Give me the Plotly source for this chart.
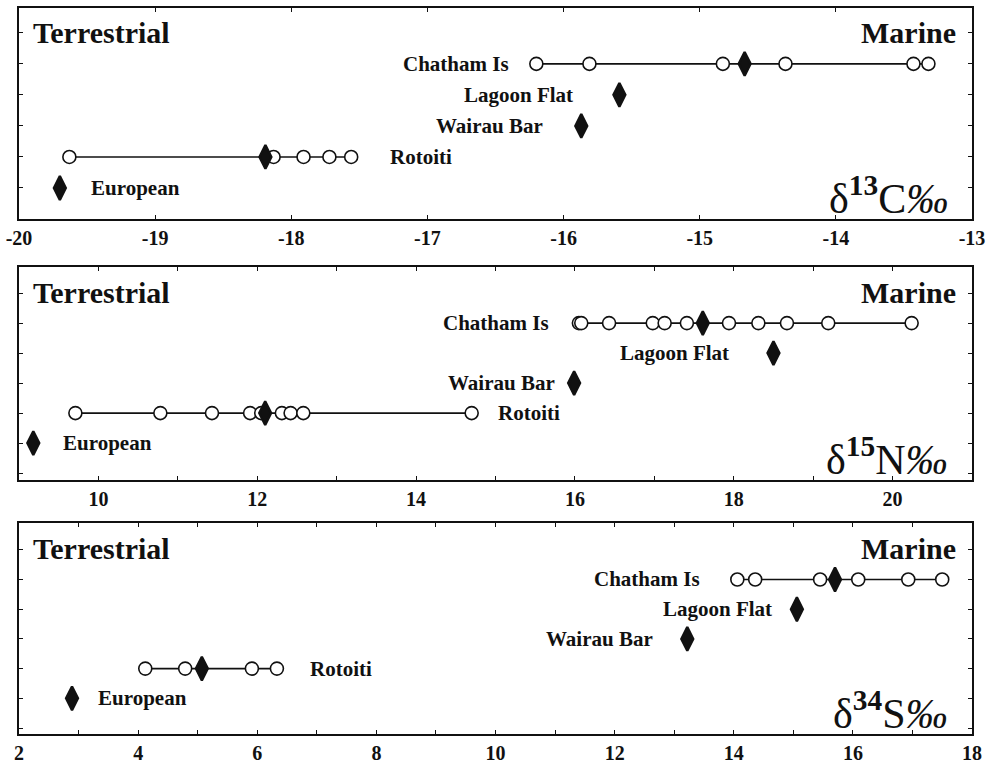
import plotly.graph_objects as go
from plotly.subplots import make_subplots

# Site order, top to bottom within each panel
sites = ["Chatham Is", "Lagoon Flat", "Wairau Bar", "Rotoiti", "European"]
site_rows = [5, 4, 3, 2, 1]

# delta 13C (per mil): individual samples and site means
c13_chatham = [-16.20, -15.81, -14.83, -14.37, -13.43, -13.32]
c13_rotoiti = [-19.63, -18.13, -17.91, -17.72, -17.56]
c13_means = [-14.67, -15.59, -15.87, -18.19, -19.70]

# delta 15N (per mil)
n15_chatham = [16.05, 16.08, 16.43, 16.98, 17.13, 17.41, 17.94, 18.31, 18.67, 19.19, 20.24]
n15_rotoiti = [9.71, 10.78, 11.43, 11.91, 12.05, 12.31, 12.42, 12.58, 14.70]
n15_means = [17.61, 18.50, 15.99, 12.10, 9.18]

# delta 34S (per mil)
s34_chatham = [14.06, 14.36, 15.45, 16.09, 16.93, 17.50]
s34_rotoiti = [4.12, 4.79, 5.91, 6.33]
s34_means = [15.70, 15.06, 13.22, 5.07, 2.89]

# Axis ticks
c13_ticks = [-20, -19, -18, -17, -16, -15, -14, -13]
n15_ticks = [10, 12, 14, 16, 18, 20]
s34_ticks = [2, 4, 6, 8, 10, 12, 14, 16, 18]

panels = [
    dict(samples={"Chatham Is": c13_chatham, "Rotoiti": c13_rotoiti}, means=c13_means,
         ticks=c13_ticks, iso="13", elem="C"),
    dict(samples={"Chatham Is": n15_chatham, "Rotoiti": n15_rotoiti}, means=n15_means,
         ticks=n15_ticks, iso="15", elem="N"),
    dict(samples={"Chatham Is": s34_chatham, "Rotoiti": s34_rotoiti}, means=s34_means,
         ticks=s34_ticks, iso="34", elem="S"),
]

# Layout: panel boxes, axis ranges, label placement (pixels from marker centre)
X_DOMAIN = [19 / 993, 972 / 993]
Y_DOMAINS = [[0.7141, 0.9896], [0.3734, 0.6514], [0.0418, 0.3172]]
X_RANGES = [[-20, -13], [9, 21], [2, 18]]
Y_RANGES = [[0.0, 6.8], [-0.23, 6.87], [-0.2, 6.9]]
LABEL_SIDE = ["left", "left", "left", "right", "right"]
LABEL_GAP = [[25, 44, 36, 37, 29], [28, 42, 17, 24, 28], [35, 23, 32, 31, 24]]

FONT = "Liberation Serif, Times New Roman, serif"
INK = "#111111"

fig = make_subplots(rows=3, cols=1)

for i, p in enumerate(panels):
    r = i + 1
    # sample ranges: connecting line, then open circles
    for site, vals in p["samples"].items():
        k = sites.index(site)
        row_y = site_rows[k]
        span = sorted(vals + [p["means"][k]])
        fig.add_trace(go.Scatter(x=[span[0], span[-1]], y=[row_y, row_y], mode="lines",
                                 line=dict(color=INK, width=1.6), hoverinfo="skip"),
                      row=r, col=1)
        fig.add_trace(go.Scatter(x=vals, y=[row_y] * len(vals), mode="markers",
                                 marker=dict(symbol="circle", size=13, color="white",
                                             line=dict(color=INK, width=1.6)),
                                 name=site),
                      row=r, col=1)
    # site means: filled diamonds
    fig.add_trace(go.Scatter(x=p["means"], y=site_rows, mode="markers",
                             marker=dict(symbol="diamond-tall", size=17, color=INK,
                                         line=dict(color=INK, width=2.4)),
                             text=sites, name="mean"),
                  row=r, col=1)

    xa = "x" if r == 1 else f"x{r}"
    ya = "y" if r == 1 else f"y{r}"

    # site labels
    for k, site in enumerate(sites):
        pts = p["samples"].get(site, []) + [p["means"][k]]
        if LABEL_SIDE[k] == "left":
            x0, anchor, shift = min(pts), "right", -LABEL_GAP[i][k]
        else:
            x0, anchor, shift = max(pts), "left", LABEL_GAP[i][k]
        fig.add_annotation(x=x0, y=site_rows[k], xref=xa, yref=ya, text=f"<b>{site}</b>",
                           showarrow=False, xanchor=anchor, yanchor="middle", xshift=shift,
                           font=dict(family=FONT, size=21, color=INK))

    # end-member labels
    fig.add_annotation(x=0, y=1, xref=f"{xa} domain", yref=f"{ya} domain", text="<b>Terrestrial</b>",
                       showarrow=False, xanchor="left", yanchor="middle", xshift=12, yshift=-25,
                       font=dict(family=FONT, size=30, color=INK))
    fig.add_annotation(x=1, y=1, xref=f"{xa} domain", yref=f"{ya} domain", text="<b>Marine</b>",
                       showarrow=False, xanchor="right", yanchor="middle", xshift=-14, yshift=-25,
                       font=dict(family=FONT, size=30, color=INK))
    # isotope label
    fig.add_annotation(x=1, y=0, xref=f"{xa} domain", yref=f"{ya} domain",
                       text=f"δ<sup><b>{p['iso']}</b></sup>{p['elem']}<i>‰</i>",
                       showarrow=False, xanchor="right", yanchor="bottom", xshift=-22, yshift=-5,
                       font=dict(family=FONT, size=42, color=INK))

    fig.update_xaxes(row=r, col=1, domain=X_DOMAIN, range=X_RANGES[i],
                     tickvals=p["ticks"], ticktext=[str(t) for t in p["ticks"]],
                     ticks="inside", ticklen=4, tickcolor=INK, mirror="ticks",
                     minor=dict(dtick=1, ticks="inside", ticklen=4, tickcolor=INK),
                     showline=True, linewidth=2, linecolor=INK, showgrid=False, zeroline=False,
                     tickfont=dict(family=FONT, size=20, color=INK, weight="bold"))
    fig.update_yaxes(row=r, col=1, domain=Y_DOMAINS[i], range=Y_RANGES[i],
                     tickmode="linear", tick0=0, dtick=1, showticklabels=False,
                     ticks="inside", ticklen=4, tickcolor=INK, mirror="ticks",
                     showline=True, linewidth=2, linecolor=INK, showgrid=False, zeroline=False)

fig.update_layout(width=993, height=766, margin=dict(l=0, r=0, t=0, b=0),
                  template="none", showlegend=False,
                  paper_bgcolor="white", plot_bgcolor="white")

fig.write_html("out.html")
